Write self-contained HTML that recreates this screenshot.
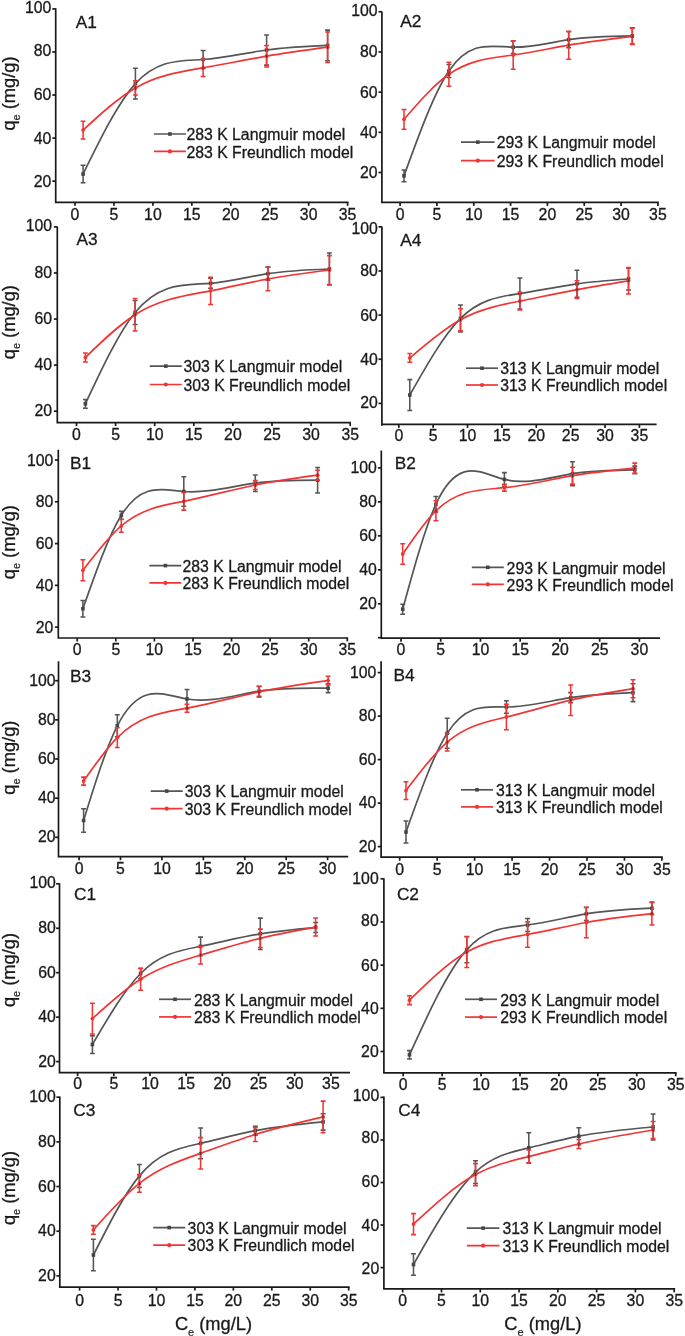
<!DOCTYPE html>
<html><head><meta charset="utf-8"><title>Adsorption isotherms</title>
<style>
html,body{margin:0;padding:0;background:#fff;}
svg{display:block;filter:blur(0.4px);}
svg text{font-family:"Liberation Sans",sans-serif;stroke:#1a1a1a;stroke-width:0.3px;stroke-linejoin:round;}
</style></head>
<body>
<svg width="685" height="1336" viewBox="0 0 685 1336">
<rect width="685" height="1336" fill="#ffffff"/>
<path d="M55.70 8.30 V202.30 H348.50" fill="none" stroke="#1a1a1a" stroke-width="1.7"/>
<path d="M55.70 8.90 h-3.4" stroke="#1a1a1a" stroke-width="1.7"/>
<text x="51.30" y="13.31" text-anchor="end" font-size="15.8" fill="#1a1a1a">100</text>
<path d="M55.70 51.96 h-3.4" stroke="#1a1a1a" stroke-width="1.7"/>
<text x="51.30" y="55.81" text-anchor="end" font-size="15.8" fill="#1a1a1a">80</text>
<path d="M55.70 95.03 h-3.4" stroke="#1a1a1a" stroke-width="1.7"/>
<text x="51.30" y="99.51" text-anchor="end" font-size="15.8" fill="#1a1a1a">60</text>
<path d="M55.70 138.09 h-3.4" stroke="#1a1a1a" stroke-width="1.7"/>
<text x="51.30" y="143.71" text-anchor="end" font-size="15.8" fill="#1a1a1a">40</text>
<path d="M55.70 181.15 h-3.4" stroke="#1a1a1a" stroke-width="1.7"/>
<text x="51.30" y="186.91" text-anchor="end" font-size="15.8" fill="#1a1a1a">20</text>
<path d="M75.00 202.30 v3.5" stroke="#1a1a1a" stroke-width="1.7"/>
<text x="75.00" y="219.60" text-anchor="middle" font-size="15.8" fill="#1a1a1a">0</text>
<path d="M113.94 202.30 v3.5" stroke="#1a1a1a" stroke-width="1.7"/>
<text x="113.94" y="219.60" text-anchor="middle" font-size="15.8" fill="#1a1a1a">5</text>
<path d="M152.89 202.30 v3.5" stroke="#1a1a1a" stroke-width="1.7"/>
<text x="152.89" y="219.60" text-anchor="middle" font-size="15.8" fill="#1a1a1a">10</text>
<path d="M191.83 202.30 v3.5" stroke="#1a1a1a" stroke-width="1.7"/>
<text x="191.83" y="219.60" text-anchor="middle" font-size="15.8" fill="#1a1a1a">15</text>
<path d="M230.77 202.30 v3.5" stroke="#1a1a1a" stroke-width="1.7"/>
<text x="230.77" y="219.60" text-anchor="middle" font-size="15.8" fill="#1a1a1a">20</text>
<path d="M269.71 202.30 v3.5" stroke="#1a1a1a" stroke-width="1.7"/>
<text x="269.71" y="219.60" text-anchor="middle" font-size="15.8" fill="#1a1a1a">25</text>
<path d="M308.66 202.30 v3.5" stroke="#1a1a1a" stroke-width="1.7"/>
<text x="308.66" y="219.60" text-anchor="middle" font-size="15.8" fill="#1a1a1a">30</text>
<path d="M347.60 202.30 v3.5" stroke="#1a1a1a" stroke-width="1.7"/>
<text x="347.60" y="219.60" text-anchor="middle" font-size="15.8" fill="#1a1a1a">35</text>
<text x="75.80" y="27.70" font-size="17.3" fill="#1a1a1a">A1</text>
<path d="M83.10 165.30V182.70M80.65 165.30H85.55M80.65 182.70H85.55M135.40 68.30V98.90M132.95 68.30H137.85M132.95 98.90H137.85M203.10 50.50V68.50M200.65 50.50H205.55M200.65 68.50H205.55M266.60 34.90V65.10M264.15 34.90H269.05M264.15 65.10H269.05M327.60 30.10V60.70M325.15 30.10H330.05M325.15 60.70H330.05" fill="none" stroke="#555555" stroke-width="1.55"/>
<path d="M83.10 174.00 C100.53 138.43 117.97 102.85 135.40 83.60 C157.97 58.68 180.53 61.10 203.10 59.50 C224.27 58.00 245.43 52.94 266.60 50.00 C286.93 47.17 307.27 46.29 327.60 45.40" fill="none" stroke="#555555" stroke-width="1.7" stroke-linejoin="round"/>
<rect x="81.30" y="172.20" width="3.6" height="3.6" fill="#454545"/><rect x="133.60" y="81.80" width="3.6" height="3.6" fill="#454545"/><rect x="201.30" y="57.70" width="3.6" height="3.6" fill="#454545"/><rect x="264.80" y="48.20" width="3.6" height="3.6" fill="#454545"/><rect x="325.80" y="43.60" width="3.6" height="3.6" fill="#454545"/>
<path d="M83.10 130.10 C100.53 114.05 117.97 98.00 135.40 87.90 C157.97 74.82 180.53 71.70 203.10 67.80 C224.27 64.14 245.43 59.80 266.60 56.20 C286.93 52.74 307.27 49.97 327.60 47.20" fill="none" stroke="#f03535" stroke-width="1.7" stroke-linejoin="round"/>
<circle cx="83.10" cy="130.10" r="1.9" fill="#f03535"/><circle cx="135.40" cy="87.90" r="1.9" fill="#f03535"/><circle cx="203.10" cy="67.80" r="1.9" fill="#f03535"/><circle cx="266.60" cy="56.20" r="1.9" fill="#f03535"/><circle cx="327.60" cy="47.20" r="1.9" fill="#f03535"/>
<path d="M83.10 121.30V138.90M80.65 121.30H85.55M80.65 138.90H85.55M135.40 80.80V95.00M132.95 80.80H137.85M132.95 95.00H137.85M203.10 59.10V76.50M200.65 59.10H205.55M200.65 76.50H205.55M266.60 45.50V66.90M264.15 45.50H269.05M264.15 66.90H269.05M327.60 32.00V62.40M325.15 32.00H330.05M325.15 62.40H330.05" fill="none" stroke="#f03535" stroke-width="1.55"/>
<rect x="134.85" y="86.40" width="1.1" height="3" fill="#4a3434"/>
<rect x="202.55" y="66.30" width="1.1" height="3" fill="#4a3434"/>
<rect x="266.05" y="54.70" width="1.1" height="3" fill="#4a3434"/>
<rect x="327.05" y="45.70" width="1.1" height="3" fill="#4a3434"/>
<path d="M153.90 134.00 H185.90" stroke="#555555" stroke-width="1.7"/>
<rect x="168.10" y="132.20" width="3.6" height="3.6" fill="#454545"/>
<path d="M153.90 151.40 H185.90" stroke="#f03535" stroke-width="1.7"/>
<circle cx="169.90" cy="151.40" r="2.1" fill="#f03535"/>
<text x="186.40" y="140.26" font-size="15.8" fill="#1a1a1a">283 K Langmuir model</text>
<text x="186.40" y="157.66" font-size="15.8" fill="#1a1a1a">283 K Freundlich model</text>
<text transform="translate(14.90 93.50) rotate(-90)" text-anchor="middle" font-size="18.3" fill="#1a1a1a">q<tspan font-size="11" dy="5.5" stroke-width="0.15">e</tspan><tspan dy="-5.5"> (mg/g)</tspan></text>
<path d="M381.90 11.40 V202.40 H658.80" fill="none" stroke="#1a1a1a" stroke-width="1.7"/>
<path d="M381.90 11.75 h-3.4" stroke="#1a1a1a" stroke-width="1.7"/>
<text x="377.50" y="15.57" text-anchor="end" font-size="15.8" fill="#1a1a1a">100</text>
<path d="M381.90 51.94 h-3.4" stroke="#1a1a1a" stroke-width="1.7"/>
<text x="377.50" y="56.91" text-anchor="end" font-size="15.8" fill="#1a1a1a">80</text>
<path d="M381.90 92.12 h-3.4" stroke="#1a1a1a" stroke-width="1.7"/>
<text x="377.50" y="97.51" text-anchor="end" font-size="15.8" fill="#1a1a1a">60</text>
<path d="M381.90 132.31 h-3.4" stroke="#1a1a1a" stroke-width="1.7"/>
<text x="377.50" y="138.41" text-anchor="end" font-size="15.8" fill="#1a1a1a">40</text>
<path d="M381.90 172.50 h-3.4" stroke="#1a1a1a" stroke-width="1.7"/>
<text x="377.50" y="178.11" text-anchor="end" font-size="15.8" fill="#1a1a1a">20</text>
<path d="M400.10 202.40 v3.5" stroke="#1a1a1a" stroke-width="1.7"/>
<text x="400.10" y="219.70" text-anchor="middle" font-size="15.8" fill="#1a1a1a">0</text>
<path d="M436.93 202.40 v3.5" stroke="#1a1a1a" stroke-width="1.7"/>
<text x="436.93" y="219.70" text-anchor="middle" font-size="15.8" fill="#1a1a1a">5</text>
<path d="M473.76 202.40 v3.5" stroke="#1a1a1a" stroke-width="1.7"/>
<text x="473.76" y="219.70" text-anchor="middle" font-size="15.8" fill="#1a1a1a">10</text>
<path d="M510.59 202.40 v3.5" stroke="#1a1a1a" stroke-width="1.7"/>
<text x="510.59" y="219.70" text-anchor="middle" font-size="15.8" fill="#1a1a1a">15</text>
<path d="M547.41 202.40 v3.5" stroke="#1a1a1a" stroke-width="1.7"/>
<text x="547.41" y="219.70" text-anchor="middle" font-size="15.8" fill="#1a1a1a">20</text>
<path d="M584.24 202.40 v3.5" stroke="#1a1a1a" stroke-width="1.7"/>
<text x="584.24" y="219.70" text-anchor="middle" font-size="15.8" fill="#1a1a1a">25</text>
<path d="M621.07 202.40 v3.5" stroke="#1a1a1a" stroke-width="1.7"/>
<text x="621.07" y="219.70" text-anchor="middle" font-size="15.8" fill="#1a1a1a">30</text>
<path d="M657.90 202.40 v3.5" stroke="#1a1a1a" stroke-width="1.7"/>
<text x="657.90" y="219.70" text-anchor="middle" font-size="15.8" fill="#1a1a1a">35</text>
<text x="400.20" y="27.10" font-size="17.3" fill="#1a1a1a">A2</text>
<path d="M404.00 169.90V181.70M401.55 169.90H406.45M401.55 181.70H406.45M448.90 64.50V77.50M446.45 64.50H451.35M446.45 77.50H451.35M513.20 41.00V53.40M510.75 41.00H515.65M510.75 53.40H515.65M568.70 31.70V47.70M566.25 31.70H571.15M566.25 47.70H571.15M632.30 27.80V44.00M629.85 27.80H634.75M629.85 44.00H634.75" fill="none" stroke="#555555" stroke-width="1.55"/>
<path d="M404.00 175.80 C418.97 134.48 433.93 93.16 448.90 71.00 C470.33 39.26 491.77 46.82 513.20 47.20 C531.70 47.53 550.20 42.50 568.70 39.70 C589.90 36.49 611.10 36.19 632.30 35.90" fill="none" stroke="#555555" stroke-width="1.7" stroke-linejoin="round"/>
<rect x="402.20" y="174.00" width="3.6" height="3.6" fill="#454545"/><rect x="447.10" y="69.20" width="3.6" height="3.6" fill="#454545"/><rect x="511.40" y="45.40" width="3.6" height="3.6" fill="#454545"/><rect x="566.90" y="37.90" width="3.6" height="3.6" fill="#454545"/><rect x="630.50" y="34.10" width="3.6" height="3.6" fill="#454545"/>
<path d="M404.00 119.30 C418.97 102.05 433.93 84.80 448.90 74.30 C470.33 59.26 491.77 58.04 513.20 55.00 C531.70 52.37 550.20 48.38 568.70 45.20 C589.90 41.56 611.10 38.98 632.30 36.40" fill="none" stroke="#f03535" stroke-width="1.7" stroke-linejoin="round"/>
<circle cx="404.00" cy="119.30" r="1.9" fill="#f03535"/><circle cx="448.90" cy="74.30" r="1.9" fill="#f03535"/><circle cx="513.20" cy="55.00" r="1.9" fill="#f03535"/><circle cx="568.70" cy="45.20" r="1.9" fill="#f03535"/><circle cx="632.30" cy="36.40" r="1.9" fill="#f03535"/>
<path d="M404.00 109.40V129.20M401.55 109.40H406.45M401.55 129.20H406.45M448.90 62.30V86.30M446.45 62.30H451.35M446.45 86.30H451.35M513.20 40.80V69.20M510.75 40.80H515.65M510.75 69.20H515.65M568.70 31.20V59.20M566.25 31.20H571.15M566.25 59.20H571.15M632.30 28.30V44.50M629.85 28.30H634.75M629.85 44.50H634.75" fill="none" stroke="#f03535" stroke-width="1.55"/>
<rect x="448.35" y="72.80" width="1.1" height="3" fill="#4a3434"/>
<rect x="568.15" y="43.70" width="1.1" height="3" fill="#4a3434"/>
<rect x="631.75" y="34.90" width="1.1" height="3" fill="#4a3434"/>
<path d="M461.00 142.10 H494.60" stroke="#555555" stroke-width="1.7"/>
<rect x="476.00" y="140.30" width="3.6" height="3.6" fill="#454545"/>
<path d="M461.00 160.70 H494.60" stroke="#f03535" stroke-width="1.7"/>
<circle cx="477.80" cy="160.70" r="2.1" fill="#f03535"/>
<text x="496.80" y="148.36" font-size="15.8" fill="#1a1a1a">293 K Langmuir model</text>
<text x="496.80" y="166.96" font-size="15.8" fill="#1a1a1a">293 K Freundlich model</text>
<path d="M57.30 226.40 V422.60 H351.00" fill="none" stroke="#1a1a1a" stroke-width="1.7"/>
<path d="M57.30 226.90 h-3.4" stroke="#1a1a1a" stroke-width="1.7"/>
<text x="52.10" y="231.41" text-anchor="end" font-size="15.8" fill="#1a1a1a">100</text>
<path d="M57.30 272.98 h-3.4" stroke="#1a1a1a" stroke-width="1.7"/>
<text x="52.10" y="278.11" text-anchor="end" font-size="15.8" fill="#1a1a1a">80</text>
<path d="M57.30 319.05 h-3.4" stroke="#1a1a1a" stroke-width="1.7"/>
<text x="52.10" y="324.31" text-anchor="end" font-size="15.8" fill="#1a1a1a">60</text>
<path d="M57.30 365.12 h-3.4" stroke="#1a1a1a" stroke-width="1.7"/>
<text x="52.10" y="370.31" text-anchor="end" font-size="15.8" fill="#1a1a1a">40</text>
<path d="M57.30 411.20 h-3.4" stroke="#1a1a1a" stroke-width="1.7"/>
<text x="52.10" y="416.21" text-anchor="end" font-size="15.8" fill="#1a1a1a">20</text>
<path d="M76.50 422.60 v3.5" stroke="#1a1a1a" stroke-width="1.7"/>
<text x="76.50" y="439.90" text-anchor="middle" font-size="15.8" fill="#1a1a1a">0</text>
<path d="M115.60 422.60 v3.5" stroke="#1a1a1a" stroke-width="1.7"/>
<text x="115.60" y="439.90" text-anchor="middle" font-size="15.8" fill="#1a1a1a">5</text>
<path d="M154.70 422.60 v3.5" stroke="#1a1a1a" stroke-width="1.7"/>
<text x="154.70" y="439.90" text-anchor="middle" font-size="15.8" fill="#1a1a1a">10</text>
<path d="M193.80 422.60 v3.5" stroke="#1a1a1a" stroke-width="1.7"/>
<text x="193.80" y="439.90" text-anchor="middle" font-size="15.8" fill="#1a1a1a">15</text>
<path d="M232.90 422.60 v3.5" stroke="#1a1a1a" stroke-width="1.7"/>
<text x="232.90" y="439.90" text-anchor="middle" font-size="15.8" fill="#1a1a1a">20</text>
<path d="M272.00 422.60 v3.5" stroke="#1a1a1a" stroke-width="1.7"/>
<text x="272.00" y="439.90" text-anchor="middle" font-size="15.8" fill="#1a1a1a">25</text>
<path d="M311.10 422.60 v3.5" stroke="#1a1a1a" stroke-width="1.7"/>
<text x="311.10" y="439.90" text-anchor="middle" font-size="15.8" fill="#1a1a1a">30</text>
<path d="M350.20 422.60 v3.5" stroke="#1a1a1a" stroke-width="1.7"/>
<text x="350.20" y="439.90" text-anchor="middle" font-size="15.8" fill="#1a1a1a">35</text>
<text x="76.60" y="245.10" font-size="17.3" fill="#1a1a1a">A3</text>
<path d="M85.40 399.40V408.20M82.95 399.40H87.85M82.95 408.20H87.85M135.10 300.50V324.50M132.65 300.50H137.55M132.65 324.50H137.55M210.60 278.30V288.30M208.15 278.30H213.05M208.15 288.30H213.05M267.90 267.10V280.30M265.45 267.10H270.35M265.45 280.30H270.35M329.40 253.00V285.00M326.95 253.00H331.85M326.95 285.00H331.85" fill="none" stroke="#555555" stroke-width="1.55"/>
<path d="M85.40 403.80 C101.97 368.34 118.53 332.88 135.10 312.50 C160.27 281.55 185.43 285.41 210.60 283.30 C229.70 281.70 248.80 276.65 267.90 273.70 C288.40 270.53 308.90 269.76 329.40 269.00" fill="none" stroke="#555555" stroke-width="1.7" stroke-linejoin="round"/>
<rect x="83.60" y="402.00" width="3.6" height="3.6" fill="#454545"/><rect x="133.30" y="310.70" width="3.6" height="3.6" fill="#454545"/><rect x="208.80" y="281.50" width="3.6" height="3.6" fill="#454545"/><rect x="266.10" y="271.90" width="3.6" height="3.6" fill="#454545"/><rect x="327.60" y="267.20" width="3.6" height="3.6" fill="#454545"/>
<path d="M85.40 357.40 C101.97 341.31 118.53 325.22 135.10 314.70 C160.27 298.72 185.43 295.60 210.60 290.80 C229.70 287.16 248.80 282.55 267.90 279.00 C288.40 275.19 308.90 272.59 329.40 270.00" fill="none" stroke="#f03535" stroke-width="1.7" stroke-linejoin="round"/>
<circle cx="85.40" cy="357.40" r="1.9" fill="#f03535"/><circle cx="135.10" cy="314.70" r="1.9" fill="#f03535"/><circle cx="210.60" cy="290.80" r="1.9" fill="#f03535"/><circle cx="267.90" cy="279.00" r="1.9" fill="#f03535"/><circle cx="329.40" cy="270.00" r="1.9" fill="#f03535"/>
<path d="M85.40 352.90V361.90M82.95 352.90H87.85M82.95 361.90H87.85M135.10 298.40V331.00M132.65 298.40H137.55M132.65 331.00H137.55M210.60 277.20V304.40M208.15 277.20H213.05M208.15 304.40H213.05M267.90 267.30V290.70M265.45 267.30H270.35M265.45 290.70H270.35M329.40 255.60V284.40M326.95 255.60H331.85M326.95 284.40H331.85" fill="none" stroke="#f03535" stroke-width="1.55"/>
<rect x="134.55" y="313.20" width="1.1" height="3" fill="#4a3434"/>
<rect x="267.35" y="277.50" width="1.1" height="3" fill="#4a3434"/>
<rect x="328.85" y="268.50" width="1.1" height="3" fill="#4a3434"/>
<path d="M149.80 366.10 H181.80" stroke="#555555" stroke-width="1.7"/>
<rect x="164.00" y="364.30" width="3.6" height="3.6" fill="#454545"/>
<path d="M149.80 384.50 H181.80" stroke="#f03535" stroke-width="1.7"/>
<circle cx="165.80" cy="384.50" r="2.1" fill="#f03535"/>
<text x="183.40" y="372.36" font-size="15.8" fill="#1a1a1a">303 K Langmuir model</text>
<text x="183.40" y="390.76" font-size="15.8" fill="#1a1a1a">303 K Freundlich model</text>
<text transform="translate(14.90 322.20) rotate(-90)" text-anchor="middle" font-size="18.3" fill="#1a1a1a">q<tspan font-size="11" dy="5.5" stroke-width="0.15">e</tspan><tspan dy="-5.5"> (mg/g)</tspan></text>
<path d="M381.90 226.40 V424.40 H656.60" fill="none" stroke="#1a1a1a" stroke-width="1.7"/>
<path d="M381.90 424.40 v1.30" stroke="#1a1a1a" stroke-width="1.7"/>
<path d="M381.90 226.85 h-3.4" stroke="#1a1a1a" stroke-width="1.7"/>
<text x="377.80" y="233.61" text-anchor="end" font-size="15.8" fill="#1a1a1a">100</text>
<path d="M381.90 270.99 h-3.4" stroke="#1a1a1a" stroke-width="1.7"/>
<text x="377.80" y="276.01" text-anchor="end" font-size="15.8" fill="#1a1a1a">80</text>
<path d="M381.90 315.12 h-3.4" stroke="#1a1a1a" stroke-width="1.7"/>
<text x="377.80" y="320.61" text-anchor="end" font-size="15.8" fill="#1a1a1a">60</text>
<path d="M381.90 359.26 h-3.4" stroke="#1a1a1a" stroke-width="1.7"/>
<text x="377.80" y="365.01" text-anchor="end" font-size="15.8" fill="#1a1a1a">40</text>
<path d="M381.90 403.40 h-3.4" stroke="#1a1a1a" stroke-width="1.7"/>
<text x="377.80" y="408.41" text-anchor="end" font-size="15.8" fill="#1a1a1a">20</text>
<path d="M398.80 424.40 v3.5" stroke="#1a1a1a" stroke-width="1.7"/>
<text x="398.80" y="440.70" text-anchor="middle" font-size="15.8" fill="#1a1a1a">0</text>
<path d="M433.17 424.40 v3.5" stroke="#1a1a1a" stroke-width="1.7"/>
<text x="433.17" y="440.70" text-anchor="middle" font-size="15.8" fill="#1a1a1a">5</text>
<path d="M467.54 424.40 v3.5" stroke="#1a1a1a" stroke-width="1.7"/>
<text x="467.54" y="440.70" text-anchor="middle" font-size="15.8" fill="#1a1a1a">10</text>
<path d="M501.91 424.40 v3.5" stroke="#1a1a1a" stroke-width="1.7"/>
<text x="501.91" y="440.70" text-anchor="middle" font-size="15.8" fill="#1a1a1a">15</text>
<path d="M536.29 424.40 v3.5" stroke="#1a1a1a" stroke-width="1.7"/>
<text x="536.29" y="440.70" text-anchor="middle" font-size="15.8" fill="#1a1a1a">20</text>
<path d="M570.66 424.40 v3.5" stroke="#1a1a1a" stroke-width="1.7"/>
<text x="570.66" y="440.70" text-anchor="middle" font-size="15.8" fill="#1a1a1a">25</text>
<path d="M605.03 424.40 v3.5" stroke="#1a1a1a" stroke-width="1.7"/>
<text x="605.03" y="440.70" text-anchor="middle" font-size="15.8" fill="#1a1a1a">30</text>
<path d="M639.40 424.40 v3.5" stroke="#1a1a1a" stroke-width="1.7"/>
<text x="639.40" y="440.70" text-anchor="middle" font-size="15.8" fill="#1a1a1a">35</text>
<text x="400.20" y="245.60" font-size="17.3" fill="#1a1a1a">A4</text>
<path d="M409.80 379.60V410.40M407.35 379.60H412.25M407.35 410.40H412.25M460.50 304.90V331.90M458.05 304.90H462.95M458.05 331.90H462.95M519.90 278.00V309.00M517.45 278.00H522.35M517.45 309.00H522.35M577.00 270.30V297.30M574.55 270.30H579.45M574.55 297.30H579.45M628.50 268.00V290.00M626.05 268.00H630.95M626.05 290.00H630.95" fill="none" stroke="#555555" stroke-width="1.55"/>
<path d="M409.80 395.00 C426.70 365.14 443.60 335.29 460.50 318.40 C480.30 298.61 500.10 296.63 519.90 293.50 C538.93 290.49 557.97 286.43 577.00 283.80 C594.17 281.43 611.33 280.21 628.50 279.00" fill="none" stroke="#555555" stroke-width="1.7" stroke-linejoin="round"/>
<rect x="408.00" y="393.20" width="3.6" height="3.6" fill="#454545"/><rect x="458.70" y="316.60" width="3.6" height="3.6" fill="#454545"/><rect x="518.10" y="291.70" width="3.6" height="3.6" fill="#454545"/><rect x="575.20" y="282.00" width="3.6" height="3.6" fill="#454545"/><rect x="626.70" y="277.20" width="3.6" height="3.6" fill="#454545"/>
<path d="M409.80 357.90 C426.70 343.44 443.60 328.97 460.50 319.70 C480.30 308.84 500.10 305.10 519.90 301.10 C538.93 297.25 557.97 293.17 577.00 289.60 C594.17 286.38 611.33 283.59 628.50 280.80" fill="none" stroke="#f03535" stroke-width="1.7" stroke-linejoin="round"/>
<circle cx="409.80" cy="357.90" r="1.9" fill="#f03535"/><circle cx="460.50" cy="319.70" r="1.9" fill="#f03535"/><circle cx="519.90" cy="301.10" r="1.9" fill="#f03535"/><circle cx="577.00" cy="289.60" r="1.9" fill="#f03535"/><circle cx="628.50" cy="280.80" r="1.9" fill="#f03535"/>
<path d="M409.80 353.50V362.30M407.35 353.50H412.25M407.35 362.30H412.25M460.50 308.70V330.70M458.05 308.70H462.95M458.05 330.70H462.95M519.90 292.30V309.90M517.45 292.30H522.35M517.45 309.90H522.35M577.00 280.80V298.40M574.55 280.80H579.45M574.55 298.40H579.45M628.50 267.60V294.00M626.05 267.60H630.95M626.05 294.00H630.95" fill="none" stroke="#f03535" stroke-width="1.55"/>
<rect x="459.95" y="318.20" width="1.1" height="3" fill="#4a3434"/>
<rect x="519.35" y="299.60" width="1.1" height="3" fill="#4a3434"/>
<rect x="576.45" y="288.10" width="1.1" height="3" fill="#4a3434"/>
<rect x="627.95" y="279.30" width="1.1" height="3" fill="#4a3434"/>
<path d="M466.00 368.20 H498.00" stroke="#555555" stroke-width="1.7"/>
<rect x="480.20" y="366.40" width="3.6" height="3.6" fill="#454545"/>
<path d="M466.00 385.00 H498.00" stroke="#f03535" stroke-width="1.7"/>
<circle cx="482.00" cy="385.00" r="2.1" fill="#f03535"/>
<text x="500.30" y="374.46" font-size="15.8" fill="#1a1a1a">313 K Langmuir model</text>
<text x="500.30" y="391.26" font-size="15.8" fill="#1a1a1a">313 K Freundlich model</text>
<path d="M58.30 449.80 V638.00 H348.10" fill="none" stroke="#1a1a1a" stroke-width="1.7"/>
<path d="M58.30 460.05 h-3.4" stroke="#1a1a1a" stroke-width="1.7"/>
<text x="53.40" y="465.51" text-anchor="end" font-size="15.8" fill="#1a1a1a">100</text>
<path d="M58.30 501.81 h-3.4" stroke="#1a1a1a" stroke-width="1.7"/>
<text x="53.40" y="507.11" text-anchor="end" font-size="15.8" fill="#1a1a1a">80</text>
<path d="M58.30 543.58 h-3.4" stroke="#1a1a1a" stroke-width="1.7"/>
<text x="53.40" y="549.31" text-anchor="end" font-size="15.8" fill="#1a1a1a">60</text>
<path d="M58.30 585.34 h-3.4" stroke="#1a1a1a" stroke-width="1.7"/>
<text x="53.40" y="591.01" text-anchor="end" font-size="15.8" fill="#1a1a1a">40</text>
<path d="M58.30 627.10 h-3.4" stroke="#1a1a1a" stroke-width="1.7"/>
<text x="53.40" y="632.61" text-anchor="end" font-size="15.8" fill="#1a1a1a">20</text>
<path d="M77.20 638.00 v3.5" stroke="#1a1a1a" stroke-width="1.7"/>
<text x="77.20" y="655.00" text-anchor="middle" font-size="15.8" fill="#1a1a1a">0</text>
<path d="M115.79 638.00 v3.5" stroke="#1a1a1a" stroke-width="1.7"/>
<text x="115.79" y="655.00" text-anchor="middle" font-size="15.8" fill="#1a1a1a">5</text>
<path d="M154.37 638.00 v3.5" stroke="#1a1a1a" stroke-width="1.7"/>
<text x="154.37" y="655.00" text-anchor="middle" font-size="15.8" fill="#1a1a1a">10</text>
<path d="M192.96 638.00 v3.5" stroke="#1a1a1a" stroke-width="1.7"/>
<text x="192.96" y="655.00" text-anchor="middle" font-size="15.8" fill="#1a1a1a">15</text>
<path d="M231.54 638.00 v3.5" stroke="#1a1a1a" stroke-width="1.7"/>
<text x="231.54" y="655.00" text-anchor="middle" font-size="15.8" fill="#1a1a1a">20</text>
<path d="M270.13 638.00 v3.5" stroke="#1a1a1a" stroke-width="1.7"/>
<text x="270.13" y="655.00" text-anchor="middle" font-size="15.8" fill="#1a1a1a">25</text>
<path d="M308.71 638.00 v3.5" stroke="#1a1a1a" stroke-width="1.7"/>
<text x="308.71" y="655.00" text-anchor="middle" font-size="15.8" fill="#1a1a1a">30</text>
<path d="M347.30 638.00 v3.5" stroke="#1a1a1a" stroke-width="1.7"/>
<text x="347.30" y="655.00" text-anchor="middle" font-size="15.8" fill="#1a1a1a">35</text>
<text x="69.90" y="468.60" font-size="17.3" fill="#1a1a1a">B1</text>
<path d="M82.90 600.40V617.00M80.45 600.40H85.35M80.45 617.00H85.35M121.30 511.30V519.30M118.85 511.30H123.75M118.85 519.30H123.75M183.80 476.80V506.20M181.35 476.80H186.25M181.35 506.20H186.25M255.30 475.00V491.40M252.85 475.00H257.75M252.85 491.40H257.75M317.60 467.50V492.90M315.15 467.50H320.05M315.15 492.90H320.05" fill="none" stroke="#555555" stroke-width="1.55"/>
<path d="M82.90 608.70 C95.70 572.31 108.50 535.92 121.30 515.30 C142.13 481.73 162.97 489.92 183.80 491.50 C207.63 493.30 231.47 486.45 255.30 483.20 C276.07 480.37 296.83 480.29 317.60 480.20" fill="none" stroke="#555555" stroke-width="1.7" stroke-linejoin="round"/>
<rect x="81.10" y="606.90" width="3.6" height="3.6" fill="#454545"/><rect x="119.50" y="513.50" width="3.6" height="3.6" fill="#454545"/><rect x="182.00" y="489.70" width="3.6" height="3.6" fill="#454545"/><rect x="253.50" y="481.40" width="3.6" height="3.6" fill="#454545"/><rect x="315.80" y="478.40" width="3.6" height="3.6" fill="#454545"/>
<path d="M82.90 570.30 C95.70 553.58 108.50 536.87 121.30 525.90 C142.13 508.05 162.97 505.44 183.80 501.30 C207.63 496.57 231.47 489.84 255.30 485.00 C276.07 480.78 296.83 477.99 317.60 475.20" fill="none" stroke="#f03535" stroke-width="1.7" stroke-linejoin="round"/>
<circle cx="82.90" cy="570.30" r="1.9" fill="#f03535"/><circle cx="121.30" cy="525.90" r="1.9" fill="#f03535"/><circle cx="183.80" cy="501.30" r="1.9" fill="#f03535"/><circle cx="255.30" cy="485.00" r="1.9" fill="#f03535"/><circle cx="317.60" cy="475.20" r="1.9" fill="#f03535"/>
<path d="M82.90 559.80V580.80M80.45 559.80H85.35M80.45 580.80H85.35M121.30 519.50V532.30M118.85 519.50H123.75M118.85 532.30H123.75M183.80 492.50V510.10M181.35 492.50H186.25M181.35 510.10H186.25M255.30 480.60V489.40M252.85 480.60H257.75M252.85 489.40H257.75M317.60 470.20V480.20M315.15 470.20H320.05M315.15 480.20H320.05" fill="none" stroke="#f03535" stroke-width="1.55"/>
<rect x="183.25" y="499.80" width="1.1" height="3" fill="#4a3434"/>
<rect x="254.75" y="483.50" width="1.1" height="3" fill="#4a3434"/>
<rect x="317.05" y="473.70" width="1.1" height="3" fill="#4a3434"/>
<path d="M149.40 565.60 H181.40" stroke="#555555" stroke-width="1.7"/>
<rect x="163.60" y="563.80" width="3.6" height="3.6" fill="#454545"/>
<path d="M149.40 582.90 H181.40" stroke="#f03535" stroke-width="1.7"/>
<circle cx="165.40" cy="582.90" r="2.1" fill="#f03535"/>
<text x="182.50" y="571.86" font-size="15.8" fill="#1a1a1a">283 K Langmuir model</text>
<text x="182.50" y="589.16" font-size="15.8" fill="#1a1a1a">283 K Freundlich model</text>
<text transform="translate(14.90 542.20) rotate(-90)" text-anchor="middle" font-size="18.3" fill="#1a1a1a">q<tspan font-size="11" dy="5.5" stroke-width="0.15">e</tspan><tspan dy="-5.5"> (mg/g)</tspan></text>
<path d="M381.30 450.60 V638.20 H659.90" fill="none" stroke="#1a1a1a" stroke-width="1.7"/>
<path d="M381.30 467.90 h-3.4" stroke="#1a1a1a" stroke-width="1.7"/>
<text x="376.90" y="472.91" text-anchor="end" font-size="15.8" fill="#1a1a1a">100</text>
<path d="M381.30 501.88 h-3.4" stroke="#1a1a1a" stroke-width="1.7"/>
<text x="376.90" y="506.81" text-anchor="end" font-size="15.8" fill="#1a1a1a">80</text>
<path d="M381.30 535.85 h-3.4" stroke="#1a1a1a" stroke-width="1.7"/>
<text x="376.90" y="541.11" text-anchor="end" font-size="15.8" fill="#1a1a1a">60</text>
<path d="M381.30 569.82 h-3.4" stroke="#1a1a1a" stroke-width="1.7"/>
<text x="376.90" y="574.91" text-anchor="end" font-size="15.8" fill="#1a1a1a">40</text>
<path d="M381.30 603.80 h-3.4" stroke="#1a1a1a" stroke-width="1.7"/>
<text x="376.90" y="609.01" text-anchor="end" font-size="15.8" fill="#1a1a1a">20</text>
<path d="M381.30 637.70 h-3.4" stroke="#1a1a1a" stroke-width="1.7"/>
<path d="M401.00 638.20 v3.5" stroke="#1a1a1a" stroke-width="1.7"/>
<text x="401.00" y="655.00" text-anchor="middle" font-size="15.8" fill="#1a1a1a">0</text>
<path d="M440.73 638.20 v3.5" stroke="#1a1a1a" stroke-width="1.7"/>
<text x="440.73" y="655.00" text-anchor="middle" font-size="15.8" fill="#1a1a1a">5</text>
<path d="M480.47 638.20 v3.5" stroke="#1a1a1a" stroke-width="1.7"/>
<text x="480.47" y="655.00" text-anchor="middle" font-size="15.8" fill="#1a1a1a">10</text>
<path d="M520.20 638.20 v3.5" stroke="#1a1a1a" stroke-width="1.7"/>
<text x="520.20" y="655.00" text-anchor="middle" font-size="15.8" fill="#1a1a1a">15</text>
<path d="M559.93 638.20 v3.5" stroke="#1a1a1a" stroke-width="1.7"/>
<text x="559.93" y="655.00" text-anchor="middle" font-size="15.8" fill="#1a1a1a">20</text>
<path d="M599.67 638.20 v3.5" stroke="#1a1a1a" stroke-width="1.7"/>
<text x="599.67" y="655.00" text-anchor="middle" font-size="15.8" fill="#1a1a1a">25</text>
<path d="M639.40 638.20 v3.5" stroke="#1a1a1a" stroke-width="1.7"/>
<text x="639.40" y="655.00" text-anchor="middle" font-size="15.8" fill="#1a1a1a">30</text>
<text x="394.70" y="468.90" font-size="17.3" fill="#1a1a1a">B2</text>
<path d="M402.70 604.20V614.20M400.25 604.20H405.15M400.25 614.20H405.15M435.90 496.40V512.00M433.45 496.40H438.35M433.45 512.00H438.35M504.40 472.60V486.20M501.95 472.60H506.85M501.95 486.20H506.85M572.50 461.70V485.70M570.05 461.70H574.95M570.05 485.70H574.95M634.80 466.10V473.70M632.35 466.10H637.25M632.35 473.70H637.25" fill="none" stroke="#555555" stroke-width="1.55"/>
<path d="M402.70 609.20 C413.77 568.78 424.83 528.37 435.90 504.20 C458.73 454.34 481.57 473.64 504.40 479.40 C527.10 485.13 549.80 477.46 572.50 473.70 C593.27 470.26 614.03 470.08 634.80 469.90" fill="none" stroke="#555555" stroke-width="1.7" stroke-linejoin="round"/>
<rect x="400.90" y="607.40" width="3.6" height="3.6" fill="#454545"/><rect x="434.10" y="502.40" width="3.6" height="3.6" fill="#454545"/><rect x="502.60" y="477.60" width="3.6" height="3.6" fill="#454545"/><rect x="570.70" y="471.90" width="3.6" height="3.6" fill="#454545"/><rect x="633.00" y="468.10" width="3.6" height="3.6" fill="#454545"/>
<path d="M402.70 554.00 C413.77 537.76 424.83 521.53 435.90 510.80 C458.73 488.67 481.57 489.98 504.40 487.70 C527.10 485.44 549.80 479.62 572.50 475.70 C593.27 472.11 614.03 470.11 634.80 468.10" fill="none" stroke="#f03535" stroke-width="1.7" stroke-linejoin="round"/>
<circle cx="402.70" cy="554.00" r="1.9" fill="#f03535"/><circle cx="435.90" cy="510.80" r="1.9" fill="#f03535"/><circle cx="504.40" cy="487.70" r="1.9" fill="#f03535"/><circle cx="572.50" cy="475.70" r="1.9" fill="#f03535"/><circle cx="634.80" cy="468.10" r="1.9" fill="#f03535"/>
<path d="M402.70 543.80V564.20M400.25 543.80H405.15M400.25 564.20H405.15M435.90 500.80V520.80M433.45 500.80H438.35M433.45 520.80H438.35M504.40 484.30V491.10M501.95 484.30H506.85M501.95 491.10H506.85M572.50 467.30V484.10M570.05 467.30H574.95M570.05 484.10H574.95M634.80 463.10V473.10M632.35 463.10H637.25M632.35 473.10H637.25" fill="none" stroke="#f03535" stroke-width="1.55"/>
<rect x="435.35" y="509.30" width="1.1" height="3" fill="#4a3434"/>
<rect x="571.95" y="474.20" width="1.1" height="3" fill="#4a3434"/>
<rect x="634.25" y="466.60" width="1.1" height="3" fill="#4a3434"/>
<path d="M471.80 567.30 H503.80" stroke="#555555" stroke-width="1.7"/>
<rect x="486.00" y="565.50" width="3.6" height="3.6" fill="#454545"/>
<path d="M471.80 584.40 H503.80" stroke="#f03535" stroke-width="1.7"/>
<circle cx="487.80" cy="584.40" r="2.1" fill="#f03535"/>
<text x="506.60" y="573.56" font-size="15.8" fill="#1a1a1a">293 K Langmuir model</text>
<text x="506.60" y="590.66" font-size="15.8" fill="#1a1a1a">293 K Freundlich model</text>
<path d="M58.50 661.30 V856.70 H348.20" fill="none" stroke="#1a1a1a" stroke-width="1.7"/>
<path d="M58.50 680.70 h-3.4" stroke="#1a1a1a" stroke-width="1.7"/>
<text x="55.60" y="686.11" text-anchor="end" font-size="15.8" fill="#1a1a1a">100</text>
<path d="M58.50 719.85 h-3.4" stroke="#1a1a1a" stroke-width="1.7"/>
<text x="55.60" y="724.91" text-anchor="end" font-size="15.8" fill="#1a1a1a">80</text>
<path d="M58.50 759.00 h-3.4" stroke="#1a1a1a" stroke-width="1.7"/>
<text x="55.60" y="764.31" text-anchor="end" font-size="15.8" fill="#1a1a1a">60</text>
<path d="M58.50 798.15 h-3.4" stroke="#1a1a1a" stroke-width="1.7"/>
<text x="55.60" y="803.31" text-anchor="end" font-size="15.8" fill="#1a1a1a">40</text>
<path d="M58.50 837.30 h-3.4" stroke="#1a1a1a" stroke-width="1.7"/>
<text x="55.60" y="842.41" text-anchor="end" font-size="15.8" fill="#1a1a1a">20</text>
<path d="M79.10 856.70 v3.5" stroke="#1a1a1a" stroke-width="1.7"/>
<text x="79.10" y="874.30" text-anchor="middle" font-size="15.8" fill="#1a1a1a">0</text>
<path d="M120.52 856.70 v3.5" stroke="#1a1a1a" stroke-width="1.7"/>
<text x="120.52" y="874.30" text-anchor="middle" font-size="15.8" fill="#1a1a1a">5</text>
<path d="M161.93 856.70 v3.5" stroke="#1a1a1a" stroke-width="1.7"/>
<text x="161.93" y="874.30" text-anchor="middle" font-size="15.8" fill="#1a1a1a">10</text>
<path d="M203.35 856.70 v3.5" stroke="#1a1a1a" stroke-width="1.7"/>
<text x="203.35" y="874.30" text-anchor="middle" font-size="15.8" fill="#1a1a1a">15</text>
<path d="M244.77 856.70 v3.5" stroke="#1a1a1a" stroke-width="1.7"/>
<text x="244.77" y="874.30" text-anchor="middle" font-size="15.8" fill="#1a1a1a">20</text>
<path d="M286.18 856.70 v3.5" stroke="#1a1a1a" stroke-width="1.7"/>
<text x="286.18" y="874.30" text-anchor="middle" font-size="15.8" fill="#1a1a1a">25</text>
<path d="M327.60 856.70 v3.5" stroke="#1a1a1a" stroke-width="1.7"/>
<text x="327.60" y="874.30" text-anchor="middle" font-size="15.8" fill="#1a1a1a">30</text>
<text x="69.90" y="681.90" font-size="17.3" fill="#1a1a1a">B3</text>
<path d="M83.60 808.80V832.20M81.15 808.80H86.05M81.15 832.20H86.05M117.30 714.80V736.80M114.85 714.80H119.75M114.85 736.80H119.75M187.00 689.50V708.50M184.55 689.50H189.45M184.55 708.50H189.45M259.10 686.20V696.20M256.65 686.20H261.55M256.65 696.20H261.55M328.10 683.80V692.60M325.65 683.80H330.55M325.65 692.60H330.55" fill="none" stroke="#555555" stroke-width="1.55"/>
<path d="M83.60 820.50 C94.83 784.20 106.07 747.90 117.30 725.80 C140.53 680.10 163.77 695.15 187.00 699.00 C211.03 702.98 235.07 694.96 259.10 691.20 C282.10 687.60 305.10 687.90 328.10 688.20" fill="none" stroke="#555555" stroke-width="1.7" stroke-linejoin="round"/>
<rect x="81.80" y="818.70" width="3.6" height="3.6" fill="#454545"/><rect x="115.50" y="724.00" width="3.6" height="3.6" fill="#454545"/><rect x="185.20" y="697.20" width="3.6" height="3.6" fill="#454545"/><rect x="257.30" y="689.40" width="3.6" height="3.6" fill="#454545"/><rect x="326.30" y="686.40" width="3.6" height="3.6" fill="#454545"/>
<path d="M83.60 781.10 C94.83 764.95 106.07 748.80 117.30 737.60 C140.53 714.44 163.77 712.46 187.00 708.20 C211.03 703.80 235.07 696.96 259.10 691.90 C282.10 687.05 305.10 683.83 328.10 680.60" fill="none" stroke="#f03535" stroke-width="1.7" stroke-linejoin="round"/>
<circle cx="83.60" cy="781.10" r="1.9" fill="#f03535"/><circle cx="117.30" cy="737.60" r="1.9" fill="#f03535"/><circle cx="187.00" cy="708.20" r="1.9" fill="#f03535"/><circle cx="259.10" cy="691.90" r="1.9" fill="#f03535"/><circle cx="328.10" cy="680.60" r="1.9" fill="#f03535"/>
<path d="M83.60 777.10V785.10M81.15 777.10H86.05M81.15 785.10H86.05M117.30 727.80V747.40M114.85 727.80H119.75M114.85 747.40H119.75M187.00 704.20V712.20M184.55 704.20H189.45M184.55 712.20H189.45M259.10 686.50V697.30M256.65 686.50H261.55M256.65 697.30H261.55M328.10 676.30V684.90M325.65 676.30H330.55M325.65 684.90H330.55" fill="none" stroke="#f03535" stroke-width="1.55"/>
<rect x="186.45" y="706.70" width="1.1" height="3" fill="#4a3434"/>
<rect x="258.55" y="690.40" width="1.1" height="3" fill="#4a3434"/>
<path d="M150.70 791.10 H182.70" stroke="#555555" stroke-width="1.7"/>
<rect x="164.90" y="789.30" width="3.6" height="3.6" fill="#454545"/>
<path d="M150.70 808.70 H182.70" stroke="#f03535" stroke-width="1.7"/>
<circle cx="166.70" cy="808.70" r="2.1" fill="#f03535"/>
<text x="184.80" y="797.36" font-size="15.8" fill="#1a1a1a">303 K Langmuir model</text>
<text x="184.80" y="814.96" font-size="15.8" fill="#1a1a1a">303 K Freundlich model</text>
<text transform="translate(14.90 757.70) rotate(-90)" text-anchor="middle" font-size="18.3" fill="#1a1a1a">q<tspan font-size="11" dy="5.5" stroke-width="0.15">e</tspan><tspan dy="-5.5"> (mg/g)</tspan></text>
<path d="M381.10 661.30 V857.20 H662.80" fill="none" stroke="#1a1a1a" stroke-width="1.7"/>
<path d="M381.10 672.60 h-3.4" stroke="#1a1a1a" stroke-width="1.7"/>
<text x="376.40" y="678.06" text-anchor="end" font-size="15.8" fill="#1a1a1a">100</text>
<path d="M381.10 716.10 h-3.4" stroke="#1a1a1a" stroke-width="1.7"/>
<text x="376.40" y="720.91" text-anchor="end" font-size="15.8" fill="#1a1a1a">80</text>
<path d="M381.10 759.60 h-3.4" stroke="#1a1a1a" stroke-width="1.7"/>
<text x="376.40" y="765.01" text-anchor="end" font-size="15.8" fill="#1a1a1a">60</text>
<path d="M381.10 803.10 h-3.4" stroke="#1a1a1a" stroke-width="1.7"/>
<text x="376.40" y="808.41" text-anchor="end" font-size="15.8" fill="#1a1a1a">40</text>
<path d="M381.10 846.60 h-3.4" stroke="#1a1a1a" stroke-width="1.7"/>
<text x="376.40" y="851.61" text-anchor="end" font-size="15.8" fill="#1a1a1a">20</text>
<path d="M399.70 857.20 v3.5" stroke="#1a1a1a" stroke-width="1.7"/>
<text x="399.70" y="874.80" text-anchor="middle" font-size="15.8" fill="#1a1a1a">0</text>
<path d="M437.16 857.20 v3.5" stroke="#1a1a1a" stroke-width="1.7"/>
<text x="437.16" y="874.80" text-anchor="middle" font-size="15.8" fill="#1a1a1a">5</text>
<path d="M474.61 857.20 v3.5" stroke="#1a1a1a" stroke-width="1.7"/>
<text x="474.61" y="874.80" text-anchor="middle" font-size="15.8" fill="#1a1a1a">10</text>
<path d="M512.07 857.20 v3.5" stroke="#1a1a1a" stroke-width="1.7"/>
<text x="512.07" y="874.80" text-anchor="middle" font-size="15.8" fill="#1a1a1a">15</text>
<path d="M549.53 857.20 v3.5" stroke="#1a1a1a" stroke-width="1.7"/>
<text x="549.53" y="874.80" text-anchor="middle" font-size="15.8" fill="#1a1a1a">20</text>
<path d="M586.99 857.20 v3.5" stroke="#1a1a1a" stroke-width="1.7"/>
<text x="586.99" y="874.80" text-anchor="middle" font-size="15.8" fill="#1a1a1a">25</text>
<path d="M624.44 857.20 v3.5" stroke="#1a1a1a" stroke-width="1.7"/>
<text x="624.44" y="874.80" text-anchor="middle" font-size="15.8" fill="#1a1a1a">30</text>
<path d="M661.90 857.20 v3.5" stroke="#1a1a1a" stroke-width="1.7"/>
<text x="661.90" y="874.80" text-anchor="middle" font-size="15.8" fill="#1a1a1a">35</text>
<text x="393.50" y="681.10" font-size="17.3" fill="#1a1a1a">B4</text>
<path d="M406.00 821.00V843.00M403.55 821.00H408.45M403.55 843.00H408.45M447.20 718.30V748.30M444.75 718.30H449.65M444.75 748.30H449.65M506.40 700.70V713.30M503.95 700.70H508.85M503.95 713.30H508.85M570.70 692.60V702.80M568.25 692.60H573.15M568.25 702.80H573.15M633.00 683.80V701.60M630.55 683.80H635.45M630.55 701.60H635.45" fill="none" stroke="#555555" stroke-width="1.55"/>
<path d="M406.00 832.00 C419.73 793.37 433.47 754.75 447.20 733.30 C466.93 702.48 486.67 707.14 506.40 707.00 C527.83 706.85 549.27 701.03 570.70 697.70 C591.47 694.48 612.23 693.59 633.00 692.70" fill="none" stroke="#555555" stroke-width="1.7" stroke-linejoin="round"/>
<rect x="404.20" y="830.20" width="3.6" height="3.6" fill="#454545"/><rect x="445.40" y="731.50" width="3.6" height="3.6" fill="#454545"/><rect x="504.60" y="705.20" width="3.6" height="3.6" fill="#454545"/><rect x="568.90" y="695.90" width="3.6" height="3.6" fill="#454545"/><rect x="631.20" y="690.90" width="3.6" height="3.6" fill="#454545"/>
<path d="M406.00 790.60 C419.73 772.25 433.47 753.90 447.20 742.10 C466.93 725.15 486.67 721.72 506.40 717.00 C527.83 711.87 549.27 705.22 570.70 700.20 C591.47 695.34 612.23 692.02 633.00 688.70" fill="none" stroke="#f03535" stroke-width="1.7" stroke-linejoin="round"/>
<circle cx="406.00" cy="790.60" r="1.9" fill="#f03535"/><circle cx="447.20" cy="742.10" r="1.9" fill="#f03535"/><circle cx="506.40" cy="717.00" r="1.9" fill="#f03535"/><circle cx="570.70" cy="700.20" r="1.9" fill="#f03535"/><circle cx="633.00" cy="688.70" r="1.9" fill="#f03535"/>
<path d="M406.00 781.80V799.40M403.55 781.80H408.45M403.55 799.40H408.45M447.20 733.30V750.90M444.75 733.30H449.65M444.75 750.90H449.65M506.40 704.20V729.80M503.95 704.20H508.85M503.95 729.80H508.85M570.70 684.90V715.50M568.25 684.90H573.15M568.25 715.50H573.15M633.00 679.70V697.70M630.55 679.70H635.45M630.55 697.70H635.45" fill="none" stroke="#f03535" stroke-width="1.55"/>
<rect x="446.65" y="740.60" width="1.1" height="3" fill="#4a3434"/>
<rect x="570.15" y="698.70" width="1.1" height="3" fill="#4a3434"/>
<rect x="632.45" y="687.20" width="1.1" height="3" fill="#4a3434"/>
<path d="M461.00 789.80 H493.00" stroke="#555555" stroke-width="1.7"/>
<rect x="475.20" y="788.00" width="3.6" height="3.6" fill="#454545"/>
<path d="M461.00 806.90 H493.00" stroke="#f03535" stroke-width="1.7"/>
<circle cx="477.00" cy="806.90" r="2.1" fill="#f03535"/>
<text x="496.00" y="796.06" font-size="15.8" fill="#1a1a1a">313 K Langmuir model</text>
<text x="496.00" y="813.16" font-size="15.8" fill="#1a1a1a">313 K Freundlich model</text>
<path d="M59.50 883.20 V1072.60 H350.00" fill="none" stroke="#1a1a1a" stroke-width="1.7"/>
<path d="M59.50 883.80 h-3.4" stroke="#1a1a1a" stroke-width="1.7"/>
<text x="55.90" y="888.11" text-anchor="end" font-size="15.8" fill="#1a1a1a">100</text>
<path d="M59.50 928.25 h-3.4" stroke="#1a1a1a" stroke-width="1.7"/>
<text x="55.90" y="933.41" text-anchor="end" font-size="15.8" fill="#1a1a1a">80</text>
<path d="M59.50 972.70 h-3.4" stroke="#1a1a1a" stroke-width="1.7"/>
<text x="55.90" y="978.11" text-anchor="end" font-size="15.8" fill="#1a1a1a">60</text>
<path d="M59.50 1017.15 h-3.4" stroke="#1a1a1a" stroke-width="1.7"/>
<text x="55.90" y="1022.41" text-anchor="end" font-size="15.8" fill="#1a1a1a">40</text>
<path d="M59.50 1061.60 h-3.4" stroke="#1a1a1a" stroke-width="1.7"/>
<text x="55.90" y="1066.71" text-anchor="end" font-size="15.8" fill="#1a1a1a">20</text>
<path d="M77.60 1072.60 v3.5" stroke="#1a1a1a" stroke-width="1.7"/>
<text x="77.60" y="1089.40" text-anchor="middle" font-size="15.8" fill="#1a1a1a">0</text>
<path d="M113.79 1072.60 v3.5" stroke="#1a1a1a" stroke-width="1.7"/>
<text x="113.79" y="1089.40" text-anchor="middle" font-size="15.8" fill="#1a1a1a">5</text>
<path d="M149.97 1072.60 v3.5" stroke="#1a1a1a" stroke-width="1.7"/>
<text x="149.97" y="1089.40" text-anchor="middle" font-size="15.8" fill="#1a1a1a">10</text>
<path d="M186.16 1072.60 v3.5" stroke="#1a1a1a" stroke-width="1.7"/>
<text x="186.16" y="1089.40" text-anchor="middle" font-size="15.8" fill="#1a1a1a">15</text>
<path d="M222.34 1072.60 v3.5" stroke="#1a1a1a" stroke-width="1.7"/>
<text x="222.34" y="1089.40" text-anchor="middle" font-size="15.8" fill="#1a1a1a">20</text>
<path d="M258.53 1072.60 v3.5" stroke="#1a1a1a" stroke-width="1.7"/>
<text x="258.53" y="1089.40" text-anchor="middle" font-size="15.8" fill="#1a1a1a">25</text>
<path d="M294.71 1072.60 v3.5" stroke="#1a1a1a" stroke-width="1.7"/>
<text x="294.71" y="1089.40" text-anchor="middle" font-size="15.8" fill="#1a1a1a">30</text>
<path d="M330.90 1072.60 v3.5" stroke="#1a1a1a" stroke-width="1.7"/>
<text x="330.90" y="1089.40" text-anchor="middle" font-size="15.8" fill="#1a1a1a">35</text>
<text x="74.00" y="899.90" font-size="17.3" fill="#1a1a1a">C1</text>
<path d="M92.40 1035.60V1053.40M89.95 1035.60H94.85M89.95 1053.40H94.85M140.60 968.50V978.50M138.15 968.50H143.05M138.15 978.50H143.05M200.60 937.10V955.50M198.15 937.10H203.05M198.15 955.50H203.05M260.30 918.10V949.50M257.85 918.10H262.75M257.85 949.50H262.75M315.60 922.50V932.50M313.15 922.50H318.05M313.15 932.50H318.05" fill="none" stroke="#555555" stroke-width="1.55"/>
<path d="M92.40 1044.50 C108.47 1017.12 124.53 989.74 140.60 973.50 C160.60 953.29 180.60 950.35 200.60 946.30 C220.50 942.27 240.40 937.16 260.30 933.80 C278.73 930.69 297.17 929.10 315.60 927.50" fill="none" stroke="#555555" stroke-width="1.7" stroke-linejoin="round"/>
<rect x="90.60" y="1042.70" width="3.6" height="3.6" fill="#454545"/><rect x="138.80" y="971.70" width="3.6" height="3.6" fill="#454545"/><rect x="198.80" y="944.50" width="3.6" height="3.6" fill="#454545"/><rect x="258.50" y="932.00" width="3.6" height="3.6" fill="#454545"/><rect x="313.80" y="925.70" width="3.6" height="3.6" fill="#454545"/>
<path d="M92.40 1018.60 C108.47 1003.96 124.53 989.33 140.60 979.20 C160.60 966.59 180.60 960.98 200.60 955.10 C220.50 949.25 240.40 943.15 260.30 938.30 C278.73 933.81 297.17 930.41 315.60 927.00" fill="none" stroke="#f03535" stroke-width="1.7" stroke-linejoin="round"/>
<circle cx="92.40" cy="1018.60" r="1.9" fill="#f03535"/><circle cx="140.60" cy="979.20" r="1.9" fill="#f03535"/><circle cx="200.60" cy="955.10" r="1.9" fill="#f03535"/><circle cx="260.30" cy="938.30" r="1.9" fill="#f03535"/><circle cx="315.60" cy="927.00" r="1.9" fill="#f03535"/>
<path d="M92.40 1003.20V1034.00M89.95 1003.20H94.85M89.95 1034.00H94.85M140.60 968.20V990.20M138.15 968.20H143.05M138.15 990.20H143.05M200.60 946.30V963.90M198.15 946.30H203.05M198.15 963.90H203.05M260.30 929.10V947.50M257.85 929.10H262.75M257.85 947.50H262.75M315.60 918.00V936.00M313.15 918.00H318.05M313.15 936.00H318.05" fill="none" stroke="#f03535" stroke-width="1.55"/>
<rect x="200.05" y="953.60" width="1.1" height="3" fill="#4a3434"/>
<rect x="259.75" y="936.80" width="1.1" height="3" fill="#4a3434"/>
<rect x="315.05" y="925.50" width="1.1" height="3" fill="#4a3434"/>
<path d="M159.00 999.30 H191.00" stroke="#555555" stroke-width="1.7"/>
<rect x="173.20" y="997.50" width="3.6" height="3.6" fill="#454545"/>
<path d="M159.00 1016.90 H191.00" stroke="#f03535" stroke-width="1.7"/>
<circle cx="175.00" cy="1016.90" r="2.1" fill="#f03535"/>
<text x="194.00" y="1005.56" font-size="15.8" fill="#1a1a1a">283 K Langmuir model</text>
<text x="194.00" y="1023.16" font-size="15.8" fill="#1a1a1a">283 K Freundlich model</text>
<text transform="translate(14.90 970.00) rotate(-90)" text-anchor="middle" font-size="18.3" fill="#1a1a1a">q<tspan font-size="11" dy="5.5" stroke-width="0.15">e</tspan><tspan dy="-5.5"> (mg/g)</tspan></text>
<path d="M383.90 878.20 V1072.80 H676.60" fill="none" stroke="#1a1a1a" stroke-width="1.7"/>
<path d="M383.90 878.80 h-3.4" stroke="#1a1a1a" stroke-width="1.7"/>
<text x="378.70" y="883.61" text-anchor="end" font-size="15.8" fill="#1a1a1a">100</text>
<path d="M383.90 921.97 h-3.4" stroke="#1a1a1a" stroke-width="1.7"/>
<text x="378.70" y="925.71" text-anchor="end" font-size="15.8" fill="#1a1a1a">80</text>
<path d="M383.90 965.15 h-3.4" stroke="#1a1a1a" stroke-width="1.7"/>
<text x="378.70" y="970.51" text-anchor="end" font-size="15.8" fill="#1a1a1a">60</text>
<path d="M383.90 1008.33 h-3.4" stroke="#1a1a1a" stroke-width="1.7"/>
<text x="378.70" y="1014.31" text-anchor="end" font-size="15.8" fill="#1a1a1a">40</text>
<path d="M383.90 1051.50 h-3.4" stroke="#1a1a1a" stroke-width="1.7"/>
<text x="378.70" y="1057.01" text-anchor="end" font-size="15.8" fill="#1a1a1a">20</text>
<path d="M403.20 1072.80 v3.5" stroke="#1a1a1a" stroke-width="1.7"/>
<text x="403.20" y="1089.60" text-anchor="middle" font-size="15.8" fill="#1a1a1a">0</text>
<path d="M442.13 1072.80 v3.5" stroke="#1a1a1a" stroke-width="1.7"/>
<text x="442.13" y="1089.60" text-anchor="middle" font-size="15.8" fill="#1a1a1a">5</text>
<path d="M481.06 1072.80 v3.5" stroke="#1a1a1a" stroke-width="1.7"/>
<text x="481.06" y="1089.60" text-anchor="middle" font-size="15.8" fill="#1a1a1a">10</text>
<path d="M519.99 1072.80 v3.5" stroke="#1a1a1a" stroke-width="1.7"/>
<text x="519.99" y="1089.60" text-anchor="middle" font-size="15.8" fill="#1a1a1a">15</text>
<path d="M558.91 1072.80 v3.5" stroke="#1a1a1a" stroke-width="1.7"/>
<text x="558.91" y="1089.60" text-anchor="middle" font-size="15.8" fill="#1a1a1a">20</text>
<path d="M597.84 1072.80 v3.5" stroke="#1a1a1a" stroke-width="1.7"/>
<text x="597.84" y="1089.60" text-anchor="middle" font-size="15.8" fill="#1a1a1a">25</text>
<path d="M636.77 1072.80 v3.5" stroke="#1a1a1a" stroke-width="1.7"/>
<text x="636.77" y="1089.60" text-anchor="middle" font-size="15.8" fill="#1a1a1a">30</text>
<path d="M675.70 1072.80 v3.5" stroke="#1a1a1a" stroke-width="1.7"/>
<text x="675.70" y="1089.60" text-anchor="middle" font-size="15.8" fill="#1a1a1a">35</text>
<text x="396.90" y="899.90" font-size="17.3" fill="#1a1a1a">C2</text>
<path d="M409.50 1050.60V1059.00M407.05 1050.60H411.95M407.05 1059.00H411.95M466.80 936.40V962.80M464.35 936.40H469.25M464.35 962.80H469.25M527.60 918.50V931.50M525.15 918.50H530.05M525.15 931.50H530.05M586.30 907.40V920.40M583.85 907.40H588.75M583.85 920.40H588.75M651.90 901.90V914.50M649.45 901.90H654.35M649.45 914.50H654.35" fill="none" stroke="#555555" stroke-width="1.55"/>
<path d="M409.50 1054.80 C428.60 1012.86 447.70 970.93 466.80 949.60 C487.07 926.97 507.33 927.55 527.60 925.00 C547.17 922.54 566.73 917.17 586.30 913.90 C608.17 910.25 630.03 909.22 651.90 908.20" fill="none" stroke="#555555" stroke-width="1.7" stroke-linejoin="round"/>
<rect x="407.70" y="1053.00" width="3.6" height="3.6" fill="#454545"/><rect x="465.00" y="947.80" width="3.6" height="3.6" fill="#454545"/><rect x="525.80" y="923.20" width="3.6" height="3.6" fill="#454545"/><rect x="584.50" y="912.10" width="3.6" height="3.6" fill="#454545"/><rect x="650.10" y="906.40" width="3.6" height="3.6" fill="#454545"/>
<path d="M409.50 1000.20 C428.60 981.52 447.70 962.84 466.80 952.10 C487.07 940.70 507.33 938.25 527.60 934.50 C547.17 930.88 566.73 926.06 586.30 922.50 C608.17 918.52 630.03 916.11 651.90 913.70" fill="none" stroke="#f03535" stroke-width="1.7" stroke-linejoin="round"/>
<circle cx="409.50" cy="1000.20" r="1.9" fill="#f03535"/><circle cx="466.80" cy="952.10" r="1.9" fill="#f03535"/><circle cx="527.60" cy="934.50" r="1.9" fill="#f03535"/><circle cx="586.30" cy="922.50" r="1.9" fill="#f03535"/><circle cx="651.90" cy="913.70" r="1.9" fill="#f03535"/>
<path d="M409.50 995.80V1004.60M407.05 995.80H411.95M407.05 1004.60H411.95M466.80 936.80V967.40M464.35 936.80H469.25M464.35 967.40H469.25M527.60 921.70V947.30M525.15 921.70H530.05M525.15 947.30H530.05M586.30 907.20V937.80M583.85 907.20H588.75M583.85 937.80H588.75M651.90 902.40V925.00M649.45 902.40H654.35M649.45 925.00H654.35" fill="none" stroke="#f03535" stroke-width="1.55"/>
<rect x="466.25" y="950.60" width="1.1" height="3" fill="#4a3434"/>
<rect x="651.35" y="912.20" width="1.1" height="3" fill="#4a3434"/>
<path d="M465.00 999.30 H497.00" stroke="#555555" stroke-width="1.7"/>
<rect x="479.20" y="997.50" width="3.6" height="3.6" fill="#454545"/>
<path d="M465.00 1017.10 H497.00" stroke="#f03535" stroke-width="1.7"/>
<circle cx="481.00" cy="1017.10" r="2.1" fill="#f03535"/>
<text x="500.30" y="1005.56" font-size="15.8" fill="#1a1a1a">293 K Langmuir model</text>
<text x="500.30" y="1023.36" font-size="15.8" fill="#1a1a1a">293 K Freundlich model</text>
<path d="M59.80 1096.40 V1287.10 H349.60" fill="none" stroke="#1a1a1a" stroke-width="1.7"/>
<path d="M59.80 1097.20 h-3.4" stroke="#1a1a1a" stroke-width="1.7"/>
<text x="55.70" y="1102.01" text-anchor="end" font-size="15.8" fill="#1a1a1a">100</text>
<path d="M59.80 1141.88 h-3.4" stroke="#1a1a1a" stroke-width="1.7"/>
<text x="55.70" y="1146.81" text-anchor="end" font-size="15.8" fill="#1a1a1a">80</text>
<path d="M59.80 1186.55 h-3.4" stroke="#1a1a1a" stroke-width="1.7"/>
<text x="55.70" y="1191.61" text-anchor="end" font-size="15.8" fill="#1a1a1a">60</text>
<path d="M59.80 1231.23 h-3.4" stroke="#1a1a1a" stroke-width="1.7"/>
<text x="55.70" y="1236.16" text-anchor="end" font-size="15.8" fill="#1a1a1a">40</text>
<path d="M59.80 1275.90 h-3.4" stroke="#1a1a1a" stroke-width="1.7"/>
<text x="55.70" y="1281.21" text-anchor="end" font-size="15.8" fill="#1a1a1a">20</text>
<path d="M79.60 1287.10 v3.5" stroke="#1a1a1a" stroke-width="1.7"/>
<text x="79.60" y="1306.20" text-anchor="middle" font-size="15.8" fill="#1a1a1a">0</text>
<path d="M118.04 1287.10 v3.5" stroke="#1a1a1a" stroke-width="1.7"/>
<text x="118.04" y="1306.20" text-anchor="middle" font-size="15.8" fill="#1a1a1a">5</text>
<path d="M156.49 1287.10 v3.5" stroke="#1a1a1a" stroke-width="1.7"/>
<text x="156.49" y="1306.20" text-anchor="middle" font-size="15.8" fill="#1a1a1a">10</text>
<path d="M194.93 1287.10 v3.5" stroke="#1a1a1a" stroke-width="1.7"/>
<text x="194.93" y="1306.20" text-anchor="middle" font-size="15.8" fill="#1a1a1a">15</text>
<path d="M233.37 1287.10 v3.5" stroke="#1a1a1a" stroke-width="1.7"/>
<text x="233.37" y="1306.20" text-anchor="middle" font-size="15.8" fill="#1a1a1a">20</text>
<path d="M271.81 1287.10 v3.5" stroke="#1a1a1a" stroke-width="1.7"/>
<text x="271.81" y="1306.20" text-anchor="middle" font-size="15.8" fill="#1a1a1a">25</text>
<path d="M310.26 1287.10 v3.5" stroke="#1a1a1a" stroke-width="1.7"/>
<text x="310.26" y="1306.20" text-anchor="middle" font-size="15.8" fill="#1a1a1a">30</text>
<path d="M348.70 1287.10 v3.5" stroke="#1a1a1a" stroke-width="1.7"/>
<text x="348.70" y="1306.20" text-anchor="middle" font-size="15.8" fill="#1a1a1a">35</text>
<text x="73.30" y="1116.40" font-size="17.3" fill="#1a1a1a">C3</text>
<path d="M93.40 1239.20V1270.80M90.95 1239.20H95.85M90.95 1270.80H95.85M139.40 1164.40V1187.40M136.95 1164.40H141.85M136.95 1187.40H141.85M200.60 1127.90V1158.70M198.15 1127.90H203.05M198.15 1158.70H203.05M255.30 1126.30V1135.10M252.85 1126.30H257.75M252.85 1135.10H257.75M323.10 1113.70V1130.10M320.65 1113.70H325.55M320.65 1130.10H325.55" fill="none" stroke="#555555" stroke-width="1.55"/>
<path d="M93.40 1255.00 C108.73 1224.67 124.07 1194.34 139.40 1175.90 C159.80 1151.37 180.20 1147.88 200.60 1143.30 C218.83 1139.21 237.07 1134.24 255.30 1130.70 C277.90 1126.31 300.50 1124.10 323.10 1121.90" fill="none" stroke="#555555" stroke-width="1.7" stroke-linejoin="round"/>
<rect x="91.60" y="1253.20" width="3.6" height="3.6" fill="#454545"/><rect x="137.60" y="1174.10" width="3.6" height="3.6" fill="#454545"/><rect x="198.80" y="1141.50" width="3.6" height="3.6" fill="#454545"/><rect x="253.50" y="1128.90" width="3.6" height="3.6" fill="#454545"/><rect x="321.30" y="1120.10" width="3.6" height="3.6" fill="#454545"/>
<path d="M93.40 1229.90 C108.73 1212.67 124.07 1195.45 139.40 1183.40 C159.80 1167.37 180.20 1160.51 200.60 1153.30 C218.83 1146.86 237.07 1140.13 255.30 1134.50 C277.90 1127.52 300.50 1122.21 323.10 1116.90" fill="none" stroke="#f03535" stroke-width="1.7" stroke-linejoin="round"/>
<circle cx="93.40" cy="1229.90" r="1.9" fill="#f03535"/><circle cx="139.40" cy="1183.40" r="1.9" fill="#f03535"/><circle cx="200.60" cy="1153.30" r="1.9" fill="#f03535"/><circle cx="255.30" cy="1134.50" r="1.9" fill="#f03535"/><circle cx="323.10" cy="1116.90" r="1.9" fill="#f03535"/>
<path d="M93.40 1225.60V1234.20M90.95 1225.60H95.85M90.95 1234.20H95.85M139.40 1174.60V1192.20M136.95 1174.60H141.85M136.95 1192.20H141.85M200.60 1137.60V1169.00M198.15 1137.60H203.05M198.15 1169.00H203.05M255.30 1127.60V1141.40M252.85 1127.60H257.75M252.85 1141.40H257.75M323.10 1101.10V1132.70M320.65 1101.10H325.55M320.65 1132.70H325.55" fill="none" stroke="#f03535" stroke-width="1.55"/>
<rect x="138.85" y="1181.90" width="1.1" height="3" fill="#4a3434"/>
<rect x="200.05" y="1151.80" width="1.1" height="3" fill="#4a3434"/>
<rect x="254.75" y="1133.00" width="1.1" height="3" fill="#4a3434"/>
<rect x="322.55" y="1115.40" width="1.1" height="3" fill="#4a3434"/>
<path d="M153.20 1227.60 H185.20" stroke="#555555" stroke-width="1.7"/>
<rect x="167.40" y="1225.80" width="3.6" height="3.6" fill="#454545"/>
<path d="M153.20 1245.20 H185.20" stroke="#f03535" stroke-width="1.7"/>
<circle cx="169.20" cy="1245.20" r="2.1" fill="#f03535"/>
<text x="187.60" y="1233.86" font-size="15.8" fill="#1a1a1a">303 K Langmuir model</text>
<text x="187.60" y="1251.46" font-size="15.8" fill="#1a1a1a">303 K Freundlich model</text>
<text transform="translate(14.90 1188.00) rotate(-90)" text-anchor="middle" font-size="18.3" fill="#1a1a1a">q<tspan font-size="11" dy="5.5" stroke-width="0.15">e</tspan><tspan dy="-5.5"> (mg/g)</tspan></text>
<text x="213.50" y="1330.20" text-anchor="middle" font-size="18.3" fill="#1a1a1a">C<tspan font-size="11" dy="5.5" stroke-width="0.15">e</tspan><tspan dy="-5.5"> (mg/L)</tspan></text>
<path d="M383.90 1096.40 V1288.90 H675.10" fill="none" stroke="#1a1a1a" stroke-width="1.7"/>
<path d="M383.90 1097.40 h-3.4" stroke="#1a1a1a" stroke-width="1.7"/>
<text x="379.20" y="1100.71" text-anchor="end" font-size="15.8" fill="#1a1a1a">100</text>
<path d="M383.90 1139.95 h-3.4" stroke="#1a1a1a" stroke-width="1.7"/>
<text x="379.20" y="1142.81" text-anchor="end" font-size="15.8" fill="#1a1a1a">80</text>
<path d="M383.90 1182.50 h-3.4" stroke="#1a1a1a" stroke-width="1.7"/>
<text x="379.20" y="1186.76" text-anchor="end" font-size="15.8" fill="#1a1a1a">60</text>
<path d="M383.90 1225.05 h-3.4" stroke="#1a1a1a" stroke-width="1.7"/>
<text x="379.20" y="1230.51" text-anchor="end" font-size="15.8" fill="#1a1a1a">40</text>
<path d="M383.90 1267.60 h-3.4" stroke="#1a1a1a" stroke-width="1.7"/>
<text x="379.20" y="1273.51" text-anchor="end" font-size="15.8" fill="#1a1a1a">20</text>
<path d="M402.70 1288.90 v3.5" stroke="#1a1a1a" stroke-width="1.7"/>
<text x="402.70" y="1306.20" text-anchor="middle" font-size="15.8" fill="#1a1a1a">0</text>
<path d="M441.49 1288.90 v3.5" stroke="#1a1a1a" stroke-width="1.7"/>
<text x="441.49" y="1306.20" text-anchor="middle" font-size="15.8" fill="#1a1a1a">5</text>
<path d="M480.27 1288.90 v3.5" stroke="#1a1a1a" stroke-width="1.7"/>
<text x="480.27" y="1306.20" text-anchor="middle" font-size="15.8" fill="#1a1a1a">10</text>
<path d="M519.06 1288.90 v3.5" stroke="#1a1a1a" stroke-width="1.7"/>
<text x="519.06" y="1306.20" text-anchor="middle" font-size="15.8" fill="#1a1a1a">15</text>
<path d="M557.84 1288.90 v3.5" stroke="#1a1a1a" stroke-width="1.7"/>
<text x="557.84" y="1306.20" text-anchor="middle" font-size="15.8" fill="#1a1a1a">20</text>
<path d="M596.63 1288.90 v3.5" stroke="#1a1a1a" stroke-width="1.7"/>
<text x="596.63" y="1306.20" text-anchor="middle" font-size="15.8" fill="#1a1a1a">25</text>
<path d="M635.41 1288.90 v3.5" stroke="#1a1a1a" stroke-width="1.7"/>
<text x="635.41" y="1306.20" text-anchor="middle" font-size="15.8" fill="#1a1a1a">30</text>
<path d="M674.20 1288.90 v3.5" stroke="#1a1a1a" stroke-width="1.7"/>
<text x="674.20" y="1306.20" text-anchor="middle" font-size="15.8" fill="#1a1a1a">35</text>
<text x="398.20" y="1116.10" font-size="17.3" fill="#1a1a1a">C4</text>
<path d="M413.50 1253.80V1275.20M411.05 1253.80H415.95M411.05 1275.20H415.95M475.50 1160.80V1183.40M473.05 1160.80H477.95M473.05 1183.40H477.95M528.80 1132.80V1162.80M526.35 1132.80H531.25M526.35 1162.80H531.25M578.80 1127.70V1144.70M576.35 1127.70H581.25M576.35 1144.70H581.25M653.10 1114.00V1140.00M650.65 1114.00H655.55M650.65 1140.00H655.55" fill="none" stroke="#555555" stroke-width="1.55"/>
<path d="M413.50 1264.50 C434.17 1227.89 454.83 1191.29 475.50 1172.10 C493.27 1155.61 511.03 1151.99 528.80 1147.80 C545.47 1143.87 562.13 1139.44 578.80 1136.20 C603.57 1131.38 628.33 1129.19 653.10 1127.00" fill="none" stroke="#555555" stroke-width="1.7" stroke-linejoin="round"/>
<rect x="411.70" y="1262.70" width="3.6" height="3.6" fill="#454545"/><rect x="473.70" y="1170.30" width="3.6" height="3.6" fill="#454545"/><rect x="527.00" y="1146.00" width="3.6" height="3.6" fill="#454545"/><rect x="577.00" y="1134.40" width="3.6" height="3.6" fill="#454545"/><rect x="651.30" y="1125.20" width="3.6" height="3.6" fill="#454545"/>
<path d="M413.50 1224.10 C434.17 1204.99 454.83 1185.87 475.50 1174.60 C493.27 1164.91 511.03 1161.01 528.80 1156.60 C545.47 1152.46 562.13 1147.86 578.80 1144.00 C603.57 1138.26 628.33 1134.13 653.10 1130.00" fill="none" stroke="#f03535" stroke-width="1.7" stroke-linejoin="round"/>
<circle cx="413.50" cy="1224.10" r="1.9" fill="#f03535"/><circle cx="475.50" cy="1174.60" r="1.9" fill="#f03535"/><circle cx="528.80" cy="1156.60" r="1.9" fill="#f03535"/><circle cx="578.80" cy="1144.00" r="1.9" fill="#f03535"/><circle cx="653.10" cy="1130.00" r="1.9" fill="#f03535"/>
<path d="M413.50 1213.60V1234.60M411.05 1213.60H415.95M411.05 1234.60H415.95M475.50 1163.60V1185.60M473.05 1163.60H477.95M473.05 1185.60H477.95M528.80 1149.90V1163.30M526.35 1149.90H531.25M526.35 1163.30H531.25M578.80 1139.50V1148.50M576.35 1139.50H581.25M576.35 1148.50H581.25M653.10 1121.40V1138.60M650.65 1121.40H655.55M650.65 1138.60H655.55" fill="none" stroke="#f03535" stroke-width="1.55"/>
<rect x="474.95" y="1173.10" width="1.1" height="3" fill="#4a3434"/>
<rect x="528.25" y="1155.10" width="1.1" height="3" fill="#4a3434"/>
<rect x="578.25" y="1142.50" width="1.1" height="3" fill="#4a3434"/>
<rect x="652.55" y="1128.50" width="1.1" height="3" fill="#4a3434"/>
<path d="M466.80 1228.10 H499.40" stroke="#555555" stroke-width="1.7"/>
<rect x="481.30" y="1226.30" width="3.6" height="3.6" fill="#454545"/>
<path d="M466.80 1245.70 H499.40" stroke="#f03535" stroke-width="1.7"/>
<circle cx="483.10" cy="1245.70" r="2.1" fill="#f03535"/>
<text x="502.50" y="1234.36" font-size="15.8" fill="#1a1a1a">313 K Langmuir model</text>
<text x="502.50" y="1251.96" font-size="15.8" fill="#1a1a1a">313 K Freundlich model</text>
<text x="542.90" y="1330.20" text-anchor="middle" font-size="18.3" fill="#1a1a1a">C<tspan font-size="11" dy="5.5" stroke-width="0.15">e</tspan><tspan dy="-5.5"> (mg/L)</tspan></text>
</svg>
</body></html>
